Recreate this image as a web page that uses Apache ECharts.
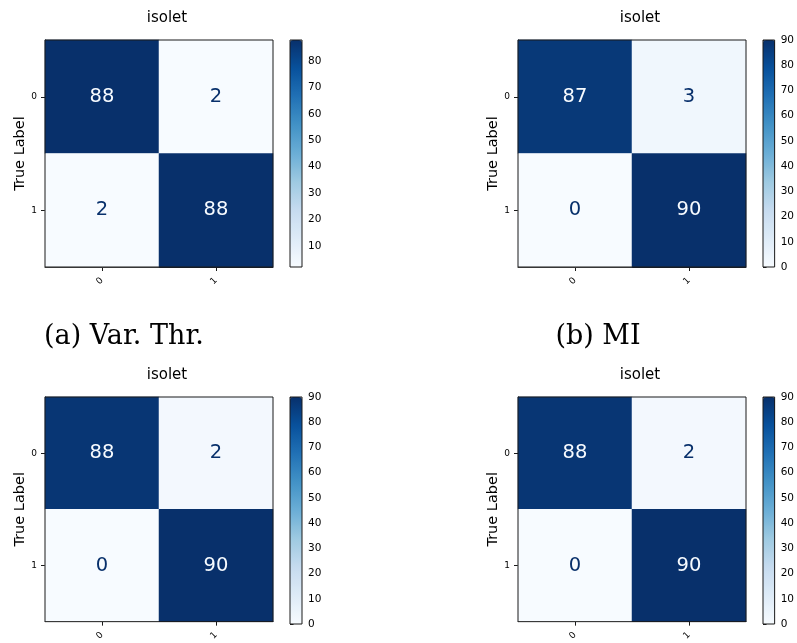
<!DOCTYPE html>
<html>
<head>
<meta charset="utf-8">
<script src="https://cdn.jsdelivr.net/npm/echarts@6/dist/echarts.min.js"></script>
<style>
  html, body { margin: 0; padding: 0; background: #fff; }
  #chart { width: 797px; height: 643px; }
</style>
</head>
<body>
<div id="chart"></div>
<script>
// Class labels on both axes
const classLabels = ['0', '1'];

// Confusion matrices (rows = true label, columns = predicted label)
const cmVarThr = [[88, 2], [2, 88]];
const cmMI = [[87, 3], [0, 90]];
const cmLowerLeft = [[88, 2], [0, 90]];
const cmLowerRight = [[88, 2], [0, 90]];

// Colour bar tick labels
const cbTicksVarThr = [10, 20, 30, 40, 50, 60, 70, 80];
const cbTicksFull = [0, 10, 20, 30, 40, 50, 60, 70, 80, 90];

// Texts
const panelTitle = 'isolet';
const yAxisTitle = 'True Label';
const captionVarThr = '(a) Var. Thr.';
const captionMI = '(b) MI';

// matplotlib "Blues" colormap stops
const blues = ['#f7fbff', '#deebf7', '#c6dbef', '#9ecae1', '#6baed6',
               '#4292c6', '#2171b5', '#08519c', '#08306b'];

const FONT = 'DejaVu Sans';
const PLOT_W = 228, PLOT_H = 227, CB_W = 12;

const panels = [
  { cm: cmVarThr, ticks: cbTicksVarThr, x: 45, y: 40, cbX: 290, titleX: 162 },
  { cm: cmMI, ticks: cbTicksFull, x: 518, y: 40, cbX: 763, titleX: 635 },
  { cm: cmLowerLeft, ticks: cbTicksFull, x: 45, y: 397, cbX: 290, titleX: 162 },
  { cm: cmLowerRight, ticks: cbTicksFull, x: 518, y: 397, cbX: 763, titleX: 635 }
];

const grid = [], xAxis = [], yAxis = [], series = [], visualMap = [], title = [];

panels.forEach((p, i) => {
  const flat = p.cm.flat();
  const vMin = Math.min(...flat), vMax = Math.max(...flat);
  const thresh = (vMin + vMax) / 2;
  const hg = i * 2, cg = i * 2 + 1;

  // heatmap area
  grid.push({ left: p.x, top: p.y, width: PLOT_W, height: PLOT_H,
              show: true, borderColor: '#1a1a1a', borderWidth: 1, z: 10,
              backgroundColor: 'transparent' });
  // colour bar area
  grid.push({ left: p.cbX, top: p.y, width: CB_W, height: PLOT_H,
              show: true, borderColor: '#1a1a1a', borderWidth: 1, z: 10,
              backgroundColor: 'transparent' });

  xAxis.push({
    gridIndex: hg, type: 'category', data: classLabels,
    axisLine: { show: true, lineStyle: { color: '#1a1a1a', width: 1 } },
    axisTick: { show: true, alignWithLabel: true, length: 4, lineStyle: { color: '#1a1a1a' } },
    axisLabel: { rotate: 45, fontSize: 9, fontFamily: FONT, color: '#000', margin: 12 },
    splitLine: { show: false }
  });
  xAxis.push({ gridIndex: cg, type: 'value', show: false, min: 0, max: 1 });

  yAxis.push({
    gridIndex: hg, type: 'category', data: classLabels, inverse: true,
    name: yAxisTitle, nameLocation: 'middle', nameGap: 17, nameRotate: 90,
    nameTextStyle: { fontSize: 14.5, fontFamily: FONT, color: '#000' },
    axisLine: { show: true, lineStyle: { color: '#1a1a1a', width: 1 } },
    axisTick: { show: true, alignWithLabel: true, length: 4, lineStyle: { color: '#1a1a1a' } },
    axisLabel: { fontSize: 9, fontFamily: FONT, color: '#000', margin: 8 },
    splitLine: { show: false }
  });
  yAxis.push({
    gridIndex: cg, type: 'value', min: vMin, max: vMax, position: 'right',
    axisLine: { show: false },
    axisTick: { show: true, length: 3.5, customValues: p.ticks, lineStyle: { color: '#1a1a1a' } },
    axisLabel: { show: true, customValues: p.ticks, fontSize: 10.5, fontFamily: FONT, color: '#000', margin: 6 },
    splitLine: { show: false }
  });

  const data = [];
  p.cm.forEach((row, r) => row.forEach((v, c) => {
    data.push({ value: [c, r, v],
                label: { color: v > thresh ? blues[0] : blues[blues.length - 1] } });
  }));
  series.push({
    type: 'heatmap', xAxisIndex: hg, yAxisIndex: hg, data,
    label: { show: true, fontSize: 19.5, fontFamily: FONT, formatter: d => String(d.value[2]) },
    emphasis: { disabled: true }
  });

  visualMap.push({
    type: 'continuous', seriesIndex: i, min: vMin, max: vMax,
    left: p.cbX, top: p.y, itemWidth: CB_W, itemHeight: PLOT_H,
    padding: 0, calculable: false, hoverLink: false, text: null,
    inRange: { color: blues }
  });

  title.push({
    text: panelTitle, left: p.titleX, top: p.y - 34, textAlign: 'center',
    textStyle: { fontSize: 15, fontWeight: 'normal', fontFamily: FONT, color: '#000' }
  });
});

// sub-figure captions
[[captionVarThr, 119], [captionMI, 593]].forEach(([t, cx]) => {
  title.push({
    text: t, left: cx, top: 318, textAlign: 'center',
    textStyle: { fontSize: 27, fontWeight: 'normal', fontFamily: 'DejaVu Serif', color: '#000' }
  });
});

const chart = echarts.init(document.getElementById('chart'), null, { renderer: 'canvas' });
chart.setOption({
  animation: false,
  backgroundColor: '#fff',
  title, grid, xAxis, yAxis, series, visualMap
});
</script>
</body>
</html>
